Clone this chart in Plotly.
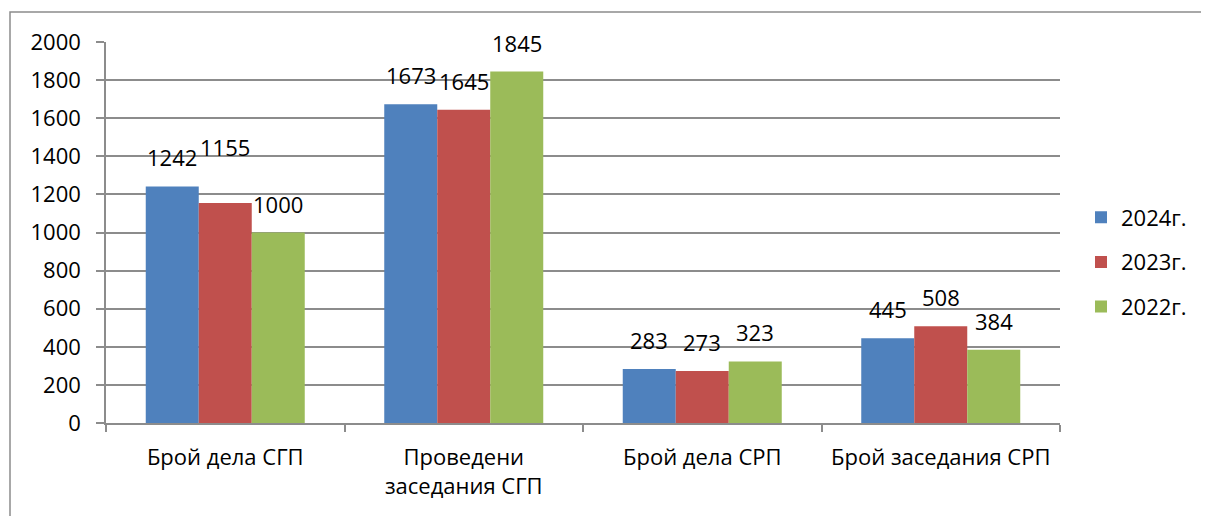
import plotly.graph_objects as go

# ---- data ----
categories = ["Брой дела СГП", "Проведени<br>заседания СГП", "Брой дела СРП", "Брой заседания СРП"]
series_names = ["2024г.", "2023г.", "2022г."]
values_2024 = [1242, 1673, 283, 445]
values_2023 = [1155, 1645, 273, 508]
values_2022 = [1000, 1845, 323, 384]
y_tick_vals = list(range(0, 2001, 200))

# ---- style ----
series_values = [values_2024, values_2023, values_2022]
colors = ["#4F81BD", "#C0504D", "#9BBB59"]
FONT = "Open Sans"
FS = 22
GRID = "#8c8c8c"
BARGAP = 1 / 3
label_extra_shift = {(1, 0): 27}  # (series, category) -> extra px up (hand-moved label)

fig = go.Figure()
for k, (name, vals, col) in enumerate(zip(series_names, series_values, colors)):
    fig.add_trace(go.Bar(name=name, x=categories, y=vals, marker_color=col,
                         marker_line_width=0, legendgroup=f"g{k}"))

# data labels
n = len(series_values)
w = (1 - BARGAP) / n
for j, vals in enumerate(series_values):
    for i, v in enumerate(vals):
        fig.add_annotation(
            x=i + (j - (n - 1) / 2) * w, y=v, xref="x", yref="y",
            text=str(v), showarrow=False, yanchor="bottom", xanchor="center",
            yshift=12 + label_extra_shift.get((j, i), 0),
            font=dict(family=FONT, size=FS, color="black"),
        )

# page has an 8px body offset
OFF = 8
W, H = 1209 - OFF, 516 - OFF
L, T = 106 - OFF, 42 - OFF
R = W - (1060 - OFF)
B = H - (423 - OFF)
pw, ph = W - L - R, H - T - B

fig.add_shape(type="rect", xref="paper", yref="paper",
              x0=(10 - 106) / pw, x1=(1230 - 106) / pw,
              y0=(423 - 540) / ph, y1=(423 - 12) / ph,
              line=dict(color=GRID, width=1.5), fillcolor="rgba(0,0,0,0)", layer="below")

fig.update_layout(
    width=W, height=H,
    margin=dict(l=L, r=R, t=T, b=B),
    paper_bgcolor="white", plot_bgcolor="white",
    barmode="group", bargap=BARGAP, bargroupgap=0,
    font=dict(family=FONT, size=FS, color="black"),
    showlegend=True,
    legend=dict(x=(1081 - 106) / pw, xanchor="left", y=(423 - 262) / ph, yanchor="middle",
                font=dict(family=FONT, size=FS, color="black"),
                tracegroupgap=13, traceorder="grouped", itemwidth=30,
                bgcolor="rgba(0,0,0,0)"),
)
fig.update_xaxes(showline=True, linecolor=GRID, linewidth=1.5,
                 ticks="outside", tickson="boundaries", ticklen=7, tickcolor=GRID, tickwidth=1.5,
                 showgrid=False, ticklabelstandoff=14,
                 tickfont=dict(family=FONT, size=FS, color="black"))
fig.update_yaxes(range=[0, 2000], tickvals=y_tick_vals, showline=True, linecolor=GRID, linewidth=1.5,
                 ticks="outside", ticklen=8, tickcolor=GRID, tickwidth=1.5,
                 showgrid=True, gridcolor=GRID, gridwidth=1.5, zeroline=False,
                 ticklabelstandoff=11,
                 tickfont=dict(family=FONT, size=FS, color="black"))

fig.write_html("out.html")
